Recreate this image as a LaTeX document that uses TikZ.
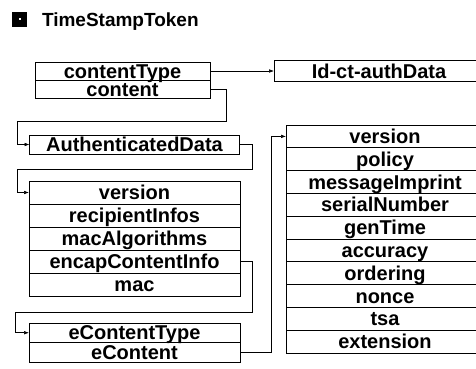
\documentclass[tikz,border=0pt]{standalone}
\usepackage{fontspec}
\usepackage{tikz}
\usetikzlibrary{positioning,arrows.meta}
\newfontfamily\boxfont{Liberation Sans}

\begin{document}
\begin{tikzpicture}[x=1pt,y=-1pt,>={Latex[length=5pt,width=3.6pt]}]
\tikzstyle{every node}=[inner sep=0pt,outer sep=0pt,text height=14.3pt,text depth=0pt,
  font=\boxfont\bfseries\fontsize{20}{20}\selectfont];
\tikzstyle{fld}=[draw,line width=0.9pt];
\tikzstyle{link}=[line width=0.55pt];
\useasboundingbox (0,0) rectangle (476,369);
\clip (0,0) rectangle (476,369);
% title
    \fill (12,12) rectangle (27,27);
    \fill[white] (18.5,18.5) rectangle (20.5,20.5);
    \node[anchor=west,text height=13.6pt,font=\boxfont\bfseries\fontsize{19}{19}\selectfont] (title) at (42,19.5) {TimeStampToken};
% contentInfo
    \node[fld,minimum width=175pt,minimum height=18pt] (ctype) at (122.5,71) {contentType};
    \node[fld,minimum width=175pt,minimum height=18pt,below=0pt of ctype] (content) {content};
    \node[fld,minimum width=210pt,minimum height=21pt] (authid) at (379,71) {Id-ct-authData};
% authenticated data
    \node[fld,minimum width=210pt,minimum height=19pt] (authdata) at (134.5,144.5) {AuthenticatedData};
    \node[fld,minimum width=211pt,minimum height=23pt] (lver) at (134.5,192.5) {version};
    \node[fld,minimum width=211pt,minimum height=23pt,below=0pt of lver] (rinfo) {recipientInfos};
    \node[fld,minimum width=211pt,minimum height=23pt,below=0pt of rinfo] (malg) {macAlgorithms};
    \node[fld,minimum width=211pt,minimum height=23pt,below=0pt of malg] (lencap) {encapContentInfo};
    \node[fld,minimum width=211pt,minimum height=23pt,below=0pt of lencap] (mac) {mac};
% encapsulated content
    \node[fld,minimum width=211pt,minimum height=19.5pt] (ectype) at (134.5,332.75) {eContentType};
    \node[fld,minimum width=211pt,minimum height=19.5pt,below=0pt of ectype] (econtent) {eContent};
% TSTInfo
    \node[fld,minimum width=198pt,minimum height=22.8pt] (rver) at (385,136.4) {version};
    \node[fld,minimum width=198pt,minimum height=22.8pt,below=0pt of rver] (policy) {policy};
    \node[fld,minimum width=198pt,minimum height=22.8pt,below=0pt of policy] (mimprint) {messageImprint};
    \node[fld,minimum width=198pt,minimum height=22.8pt,below=0pt of mimprint] (serial) {serialNumber};
    \node[fld,minimum width=198pt,minimum height=22.8pt,below=0pt of serial] (gentime) {genTime};
    \node[fld,minimum width=198pt,minimum height=22.8pt,below=0pt of gentime] (accuracy) {accuracy};
    \node[fld,minimum width=198pt,minimum height=22.8pt,below=0pt of accuracy] (ordering) {ordering};
    \node[fld,minimum width=198pt,minimum height=22.8pt,below=0pt of ordering] (nonce) {nonce};
    \node[fld,minimum width=198pt,minimum height=22.8pt,below=0pt of nonce] (tsa) {tsa};
    \node[fld,minimum width=198pt,minimum height=22.8pt,below=0pt of tsa] (ext) {extension};
% links
    \draw[link,->] (ctype.east) -- (authid.west);
    \draw[link,->] (content.east) -- ++(16,0) |- ++(-209,32) |- (authdata.west);
    \draw[link,->] (authdata.east) -- ++(13,0) |- ++(-235,24.5) |- (lver.west);
    \draw[link,->] (lencap.east) -- ++(12,0) |- ++(-237,50.5) |- (ectype.west);
    \draw[link,->] (econtent.east) -- ++(31,0) |- (rver.west);
\end{tikzpicture}
\end{document}
